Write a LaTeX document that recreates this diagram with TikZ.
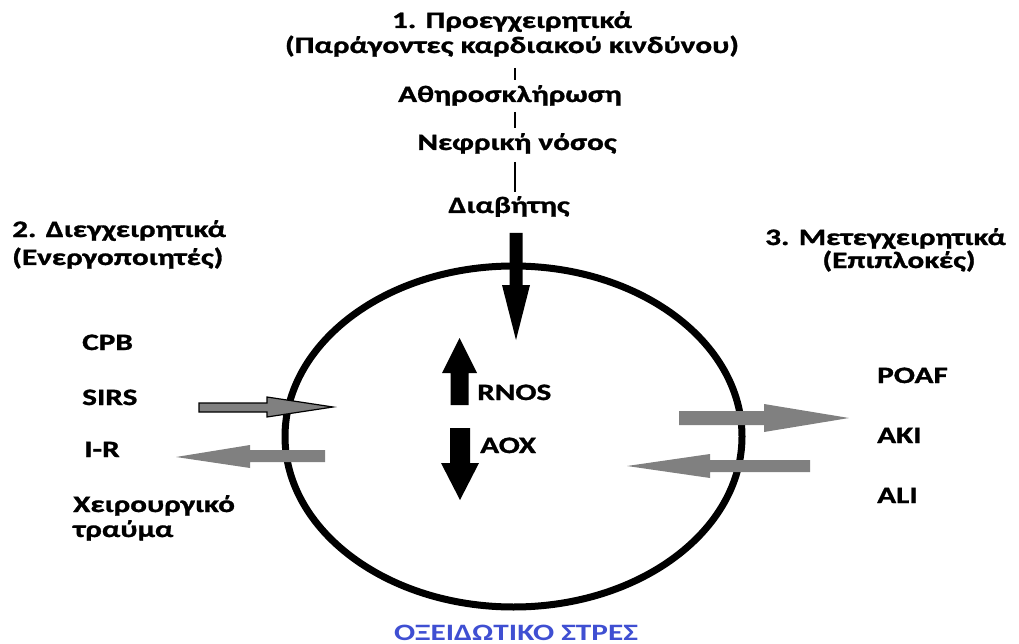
\documentclass[tikz,border=0pt]{standalone}
\usepackage{fontspec}
\usetikzlibrary{shapes.geometric}
\newfontfamily\lblfont{Carlito}[FakeStretch=1.33,FakeBold=1.2]
\newfontfamily\oxfont{Carlito}[FakeStretch=1.33]
\definecolor{arrgray}{HTML}{808080}
\definecolor{stressblue}{HTML}{3F4FD2}
\begin{document}
\begin{tikzpicture}[x=1pt,y=-1pt,
  lbl/.style={inner sep=0pt,font=\lblfont\bfseries\fontsize{23.5}{26}\selectfont,text=black},
  lblw/.style={lbl,anchor=base west},
  lblc/.style={lbl,anchor=base},
  thin/.style={line width=1.6pt,black},
  blk/.style={fill=black,draw=none},
  gry/.style={fill=arrgray,draw=none}]
\useasboundingbox (0,0) rectangle (1019,644);
% ellipse
\node[draw=black,line width=7pt,ellipse,minimum width=457pt,minimum height=341pt,inner sep=0pt] (circ) at (513.5,436.5) {};
% top texts
\node[lblc] (t1) at (512,28) {1. Προεγχειρητικά};
\node[lblc] (t1b) at (512,53) {(Παράγοντες καρδιακού κινδύνου)};
\node[lblc] (ath) at (510,102) {Αθηροσκλήρωση};
\node[lblc] (nef) at (517,150) {Νεφρική νόσος};
\node[lblc] (dia) at (509,213) {Διαβήτης};
\coordinate (v1a) at (515,68); \coordinate (v1b) at (515,80);
\coordinate (v2a) at (515,112); \coordinate (v2b) at (515,128);
\coordinate (v3a) at (515,162); \coordinate (v3b) at (515,192);
\draw[thin] (v1a) -- (v1b);
\draw[thin] (v2a) -- (v2b);
\draw[thin] (v3a) -- (v3b);
% black down arrow from Diabetes
\fill[blk] (509.5,233) -- (522.5,233) -- (522.5,285) -- (530,285) -- (516,340) -- (502,285) -- (509.5,285) -- cycle;
% RNOS up arrow
\fill[blk] (450.5,405) -- (468.5,405) -- (468.5,373) -- (477,373) -- (459.5,338) -- (442,373) -- (450.5,373) -- cycle;
\node[lblw] (rnos) at (477,400) {RNOS};
% AOX down arrow
\fill[blk] (450,428) -- (470,428) -- (470,463) -- (479,463) -- (460,500) -- (441,463) -- (450,463) -- cycle;
\node[lblw] (aox) at (480,453) {AOX};
% left texts
\node[lblw] (t2) at (12,237) {2. Διεγχειρητικά};
\node[lblw] (t2b) at (12,265) {(Ενεργοποιητές)};
\node[lblw] (cpb) at (82,350) {CPB};
\node[lblw] (sirs) at (82,405) {SIRS};
\node[lblw] (ir) at (84,457) {I-R};
\node[lblw] (xei) at (73,512) {Χειρουργικό};
\node[lblw] (tra) at (73,537) {τραύμα};
% SIRS arrow (outlined)
\draw[fill=arrgray,draw=black,line width=1.2pt,line join=miter] (199,403) -- (267,403) -- (267,397) -- (333,407) -- (267,417) -- (267,412) -- (199,412) -- cycle;
% I-R arrow
\fill[gry] (325,450) -- (250,450) -- (250,445) -- (176,457) -- (250,468) -- (250,462) -- (325,462) -- cycle;
% right texts
\node[lblw] (t3) at (765,245) {3. Μετεγχειρητικά};
\node[lblc] (t3b) at (899,268) {(Επιπλοκές)};
\node[lblw] (poaf) at (877,383) {POAF};
\node[lblw] (aki) at (877,443) {AKI};
\node[lblw] (ali) at (877,503) {ALI};
% right arrows
\fill[gry] (679,411) -- (764,411) -- (764,404) -- (849,418) -- (764,432) -- (764,425) -- (679,425) -- cycle;
\fill[gry] (810,460) -- (710,460) -- (710,454) -- (627,466) -- (710,478) -- (710,472) -- (810,472) -- cycle;
% bottom label
\node[inner sep=0pt,anchor=base,font=\oxfont\bfseries\fontsize{23.5}{26}\selectfont,text=stressblue] (ox) at (516,640) {ΟΞΕΙΔΩΤΙΚΟ ΣΤΡΕΣ};
\end{tikzpicture}
\end{document}
